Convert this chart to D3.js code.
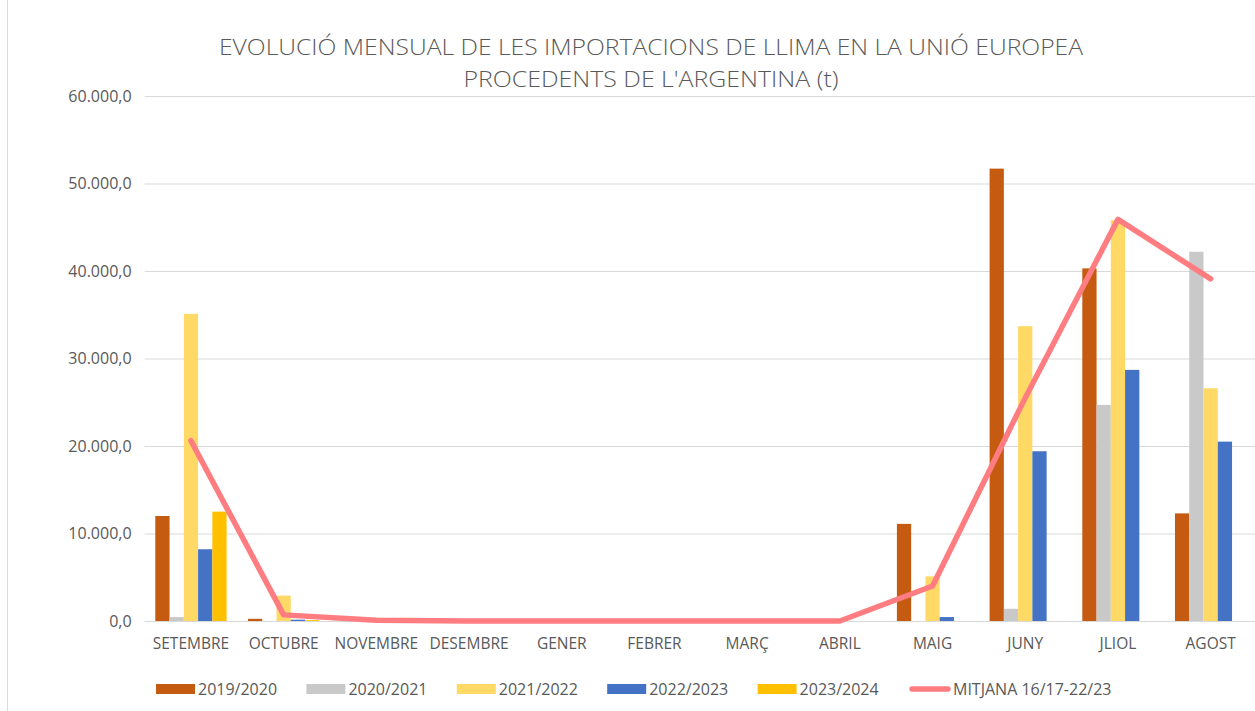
<!DOCTYPE html>
<html>
<head>
<meta charset="utf-8">
<script src="https://cdn.jsdelivr.net/npm/d3@7"></script>
<style>
  body { margin: 0; background: #fff; }
  text { font-family: "Open Sans", sans-serif; fill: #595959; }
</style>
</head>
<body>
<div id="chart"></div>
<script>
// chart data (tones)
var months = ['SETEMBRE', 'OCTUBRE', 'NOVEMBRE', 'DESEMBRE', 'GENER', 'FEBRER',
  'MARÇ', 'ABRIL', 'MAIG', 'JUNY', 'JLIOL', 'AGOST'];
var seasons = ['2019/2020', '2020/2021', '2021/2022', '2022/2023', '2023/2024'];
var s1920 = [12000, 250, 0, 0, 0, 0, 0, 0, 11100, 51700, 40300, 12300];
var s2021 = [450, 0, 0, 0, 0, 0, 0, 0, 0, 1400, 24700, 42200];
var s2122 = [35100, 2900, 0, 0, 0, 0, 0, 0, 5100, 33700, 45800, 26600];
var s2223 = [8200, 150, 0, 0, 0, 0, 0, 0, 450, 19400, 28700, 20500];
var s2324 = [12500, 100, 0, 0, 0, 0, 0, 0, 0, 0, 0, 0];
var mitjana = [20600, 700, 80, 0, 0, 0, 0, 0, 4000, 25500, 45900, 39100];
var mitjanaLabel = 'MITJANA 16/17-22/23';
var yTicks = [0, 10000, 20000, 30000, 40000, 50000, 60000];
var titleLines = ['EVOLUCIÓ MENSUAL DE LES IMPORTACIONS DE LLIMA EN LA UNIÓ EUROPEA',
  "PROCEDENTS DE L'ARGENTINA (t)"];

(function() {
  var seriesValues = [s1920, s2021, s2122, s2223, s2324];
  var colors = ['#C55A11', '#C9C9C9', '#FFD966', '#4472C4', '#FFC000'];
  var lineColor = '#FF7C80';

  var width = 1255;
  var height = 711;
  var plotLeft = 144.6, plotRight = 1257, plotTop = 96, plotBottom = 621;

  var svg = d3.select('#chart').append('svg')
    .attr('width', width)
    .attr('height', height);

  svg.append('rect')
    .attr('width', width)
    .attr('height', height)
    .attr('fill', '#fff');

  // chart frame, only the left edge shows
  svg.append('line')
    .attr('x1', 7.5).attr('x2', 7.5)
    .attr('y1', 0).attr('y2', height)
    .attr('stroke', '#D9D9D9');

  var catala = d3.formatLocale({decimal: ',', thousands: '.', grouping: [3], currency: ['', '€']});
  var fmt = catala.format(',.1f');

  var x = d3.scaleBand().domain(months).range([plotLeft, plotRight]);
  var bw = x.bandwidth();
  var gap = bw * 1.5 / 6.5;
  var x1 = d3.scaleBand().domain(seasons).range([gap / 2, bw - gap / 2]);
  var y = d3.scaleLinear().domain([0, 60000]).range([plotBottom, plotTop]);

  // y axis with gridlines
  var yAxis = svg.append('g')
    .attr('transform', 'translate(' + plotLeft + ',0)')
    .call(d3.axisLeft(y).tickValues(yTicks).tickFormat(fmt)
      .tickSize(-(plotRight - plotLeft)).tickPadding(13));
  yAxis.select('.domain').remove();
  yAxis.selectAll('line').attr('stroke', '#D9D9D9');
  yAxis.selectAll('text')
    .attr('fill', '#595959')
    .style('font-size', '16px')
    .style('font-family', '"Open Sans", sans-serif');

  // x axis labels
  var xAxis = svg.append('g')
    .attr('transform', 'translate(0,' + plotBottom + ')')
    .call(d3.axisBottom(x).tickSize(0).tickPadding(17));
  xAxis.select('.domain').remove();
  xAxis.selectAll('text')
    .attr('fill', '#595959')
    .style('font-size', '15.5px')
    .style('font-family', '"Open Sans", sans-serif');

  // bars
  seasons.forEach(function(s, i) {
    svg.append('g').selectAll('rect')
      .data(seriesValues[i])
      .enter().append('rect')
      .attr('x', function(d, j) { return x(months[j]) + x1(s); })
      .attr('y', function(d) { return y(d); })
      .attr('width', x1.bandwidth())
      .attr('height', function(d) { return plotBottom - y(d); })
      .attr('fill', colors[i]);
  });

  // average line
  var line = d3.line()
    .x(function(d, j) { return x(months[j]) + bw / 2; })
    .y(function(d) { return y(d); });

  svg.append('path')
    .datum(mitjana)
    .attr('d', line)
    .attr('fill', 'none')
    .attr('stroke', lineColor)
    .attr('stroke-width', 5.5)
    .attr('stroke-linejoin', 'round')
    .attr('stroke-linecap', 'round');

  // title
  svg.selectAll('.title')
    .data(titleLines)
    .enter().append('text')
    .attr('class', 'title')
    .attr('x', 651)
    .attr('y', function(d, i) { return 55 + i * 32; })
    .attr('text-anchor', 'middle')
    .attr('textLength', function(d, i) { return i === 0 ? 864 : 375; })
    .attr('lengthAdjust', 'spacingAndGlyphs')
    .style('font-size', '22px')
    .style('font-weight', 300)
    .text(function(d) { return d; });

  // legend
  var legendX = 156, legendStep = 150.4;
  var legend = svg.append('g');
  seasons.forEach(function(s, i) {
    var lx = legendX + i * legendStep;
    legend.append('rect')
      .attr('x', lx).attr('y', 684)
      .attr('width', 39).attr('height', 10)
      .attr('fill', colors[i]);
    legend.append('text')
      .attr('x', lx + 42).attr('y', 694.5)
      .style('font-size', '16px')
      .text(s);
  });
  var lx = legendX + seasons.length * legendStep;
  legend.append('line')
    .attr('x1', lx + 4).attr('x2', lx + 40)
    .attr('y1', 689).attr('y2', 689)
    .attr('stroke', lineColor)
    .attr('stroke-width', 5.5)
    .attr('stroke-linecap', 'round');
  legend.append('text')
    .attr('x', lx + 45).attr('y', 694.5)
    .style('font-size', '16px')
    .text(mitjanaLabel);
})();
</script>
</body>
</html>
